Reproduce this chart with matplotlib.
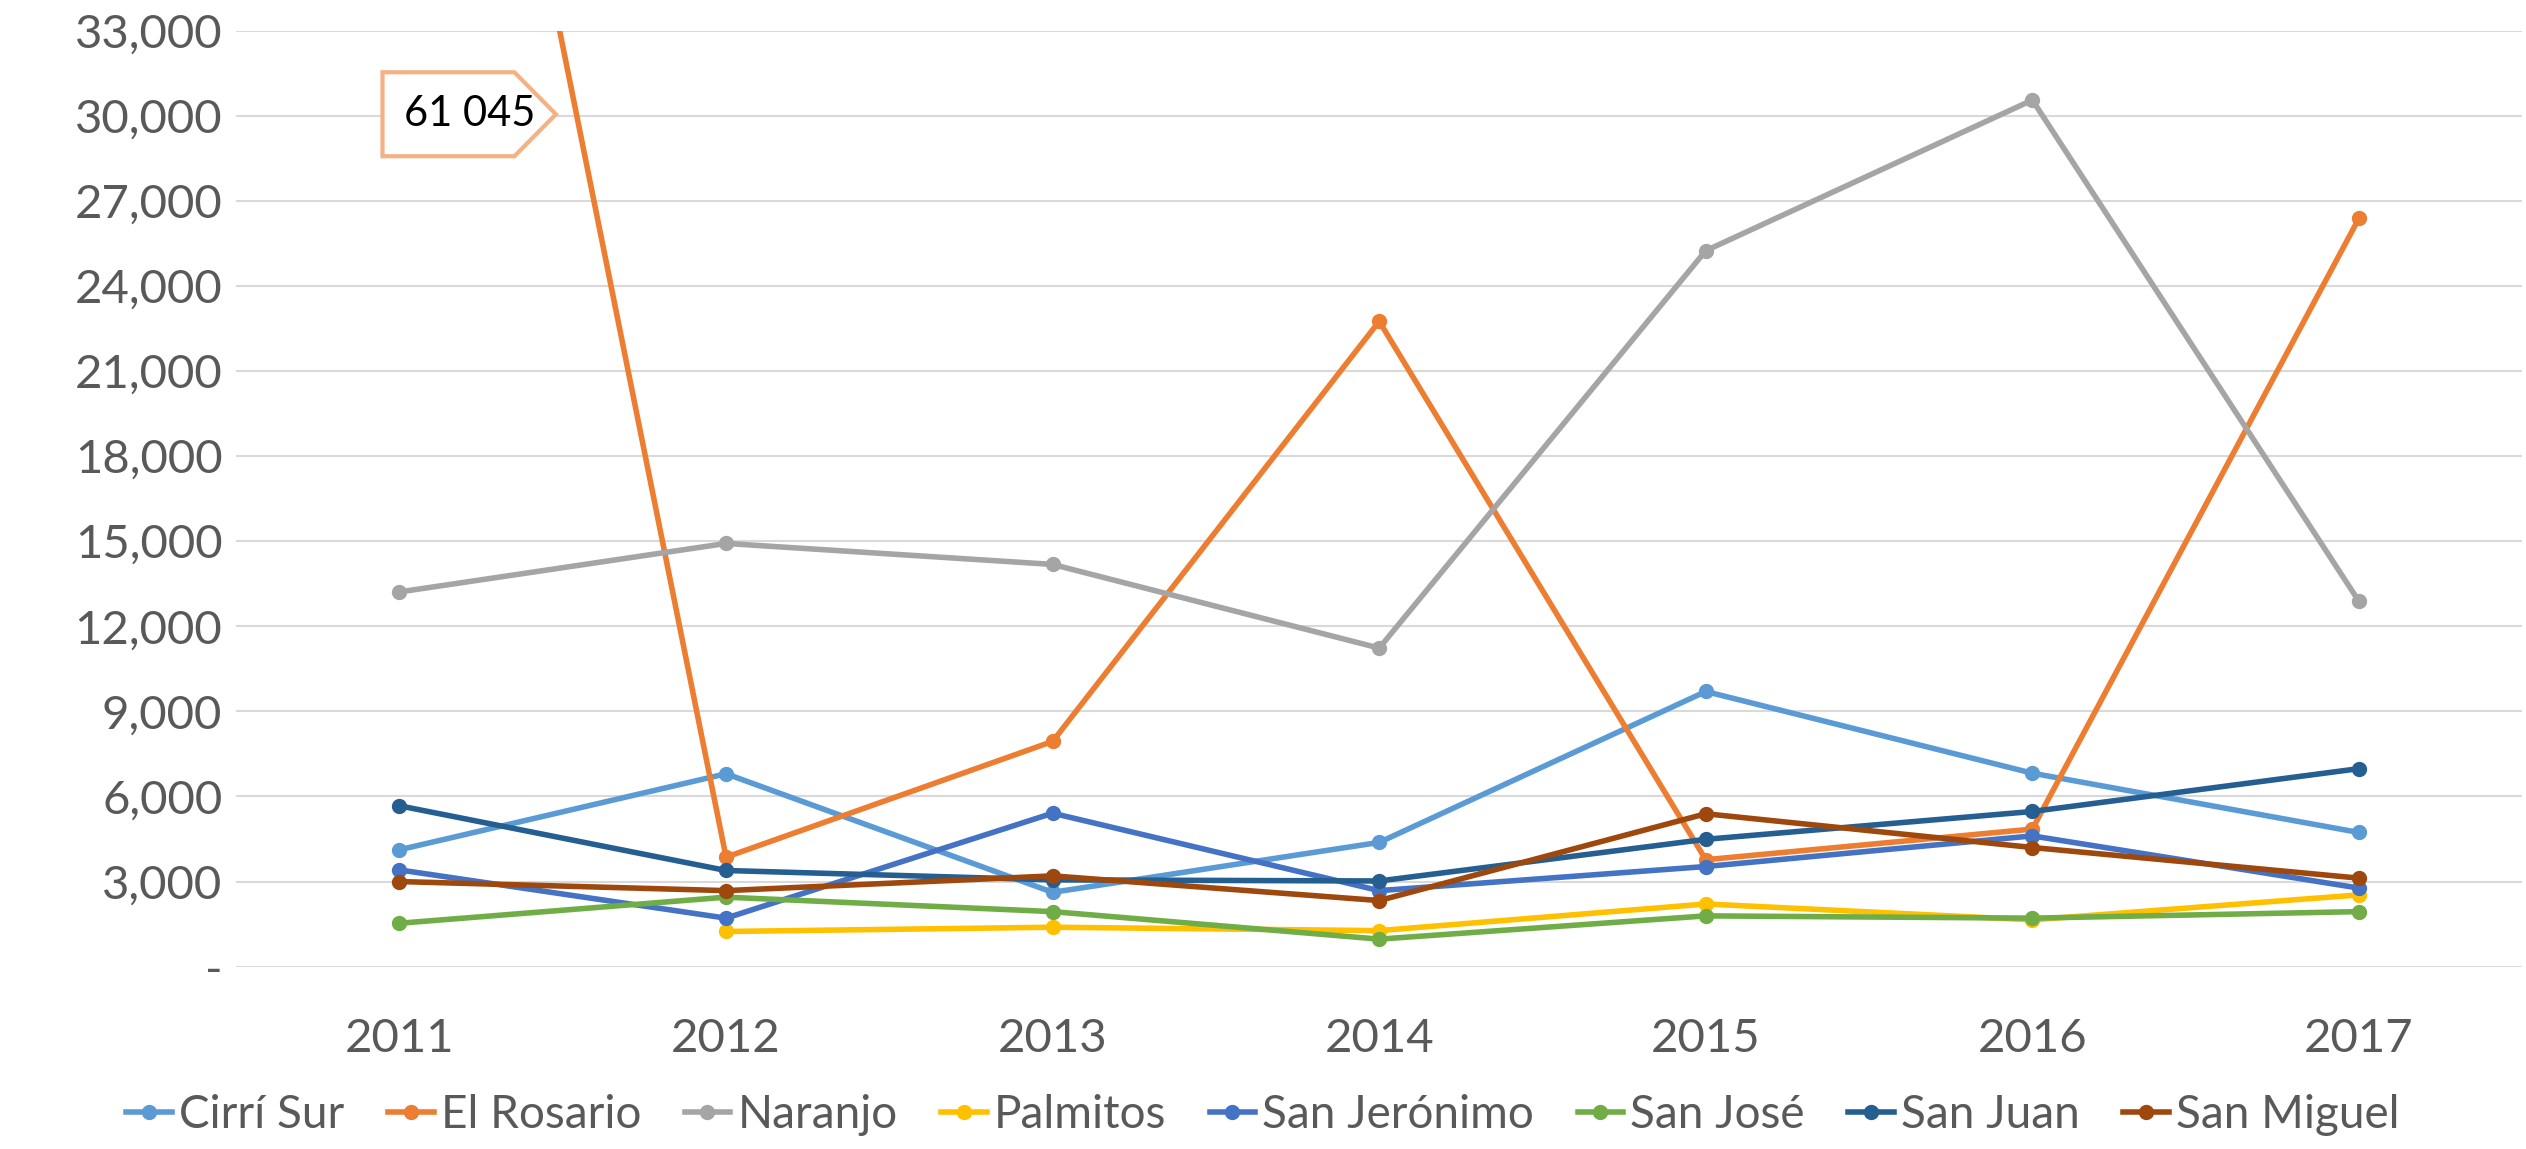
import matplotlib.pyplot as plt
from matplotlib.patches import Polygon
from matplotlib.ticker import FuncFormatter

plt.rcParams['font.family'] = ['Lato', 'DejaVu Sans']

years = ['2011', '2012', '2013', '2014', '2015', '2016', '2017']

cirri_sur = [4120, 6800, 2620, 4380, 9700, 6820, 4730]
el_rosario = [61045, 3860, 7940, 22750, 3770, 4850, 26380]
naranjo = [13210, 14920, 14180, 11230, 25240, 30550, 12880]
palmitos = [None, 1240, 1390, 1270, 2210, 1650, 2530]
san_jeronimo = [3410, 1710, 5410, 2680, 3530, 4610, 2770]
san_jose = [1530, 2450, 1940, 970, 1790, 1710, 1940]
san_juan = [5670, 3390, 3060, 3020, 4490, 5470, 6980]
san_miguel = [3000, 2680, 3200, 2330, 5390, 4200, 3120]

names = ['Cirrí Sur', 'El Rosario', 'Naranjo', 'Palmitos', 'San Jerónimo',
         'San José', 'San Juan', 'San Miguel']
series = [cirri_sur, el_rosario, naranjo, palmitos, san_jeronimo,
          san_jose, san_juan, san_miguel]
colors = ['#5B9BD5', '#ED7D31', '#A5A5A5', '#FFC000', '#4472C4',
          '#70AD47', '#255E91', '#9E480E']

callout_text = '61 045'

fig = plt.figure(figsize=(25.26, 11.49), dpi=100)
ax = fig.add_axes([0.0935, 0.1587, 0.905, 0.8147])

x = list(range(len(years)))
for name, vals, c in zip(names, series, colors):
    xs = [i for i, v in zip(x, vals) if v is not None]
    ys = [v for v in vals if v is not None]
    ax.plot(xs, ys, color=c, lw=4, marker='o', ms=10, label=name,
            solid_joinstyle='round')

ax.set_xlim(-0.5, 6.5)
ax.set_ylim(0, 33000)
ax.set_yticks(range(0, 33001, 3000))
ax.yaxis.set_major_formatter(FuncFormatter(lambda v, p: '-' if v == 0 else f'{v:,.0f}'))
ax.set_xticks(x)
ax.set_xticklabels(years)
ax.tick_params(axis='both', length=0, labelsize=34, colors='#595959')
ax.tick_params(axis='x', pad=37)
ax.tick_params(axis='y', pad=10)
ax.grid(axis='y', color='#D9D9D9', lw=1.5)
ax.set_axisbelow(True)
for s in ax.spines.values():
    s.set_visible(False)

# data label callout for the clipped 2011 El Rosario value
cx, cy = 0, 30050
box = [(cx - 0.052, cy + 1480), (cx + 0.352, cy + 1480), (cx + 0.479, cy),
       (cx + 0.352, cy - 1480), (cx - 0.052, cy - 1480)]
ax.add_patch(Polygon(box, closed=True, facecolor='white', edgecolor='#F4B183',
                     lw=3, zorder=5, clip_on=False))
ax.text(cx + 0.215, cy, callout_text, ha='center', va='center', fontsize=30,
        color='black', zorder=6)

fig.legend(loc='lower center', bbox_to_anchor=(0.5, -0.025), ncol=8,
           frameon=False, fontsize=33, labelcolor='#595959',
           handlelength=1.0, handletextpad=0.15, columnspacing=0.95)

fig.savefig('out.png', dpi=100)
